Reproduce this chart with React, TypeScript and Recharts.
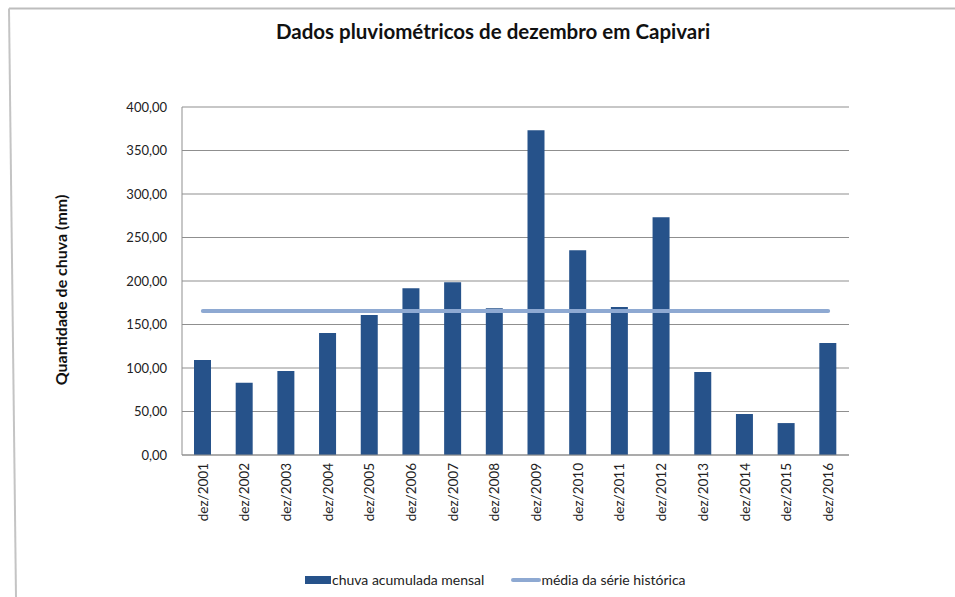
import { ComposedChart, Bar, Line, XAxis, YAxis, CartesianGrid } from 'recharts'

const categorias = [
  'dez/2001', 'dez/2002', 'dez/2003', 'dez/2004', 'dez/2005', 'dez/2006', 'dez/2007', 'dez/2008',
  'dez/2009', 'dez/2010', 'dez/2011', 'dez/2012', 'dez/2013', 'dez/2014', 'dez/2015', 'dez/2016',
]
const chuvaMensal = [109.1, 83.0, 96.5, 140.1, 160.8, 191.8, 198.7, 168.8, 373.2, 235.4, 170.0, 273.3, 95.3, 47.1, 36.7, 128.6]
const mediaSerie = [165.4, 165.4, 165.4, 165.4, 165.4, 165.4, 165.4, 165.4, 165.4, 165.4, 165.4, 165.4, 165.4, 165.4, 165.4, 165.4]
const yTicks = [0, 50, 100, 150, 200, 250, 300, 350, 400]

const data = categorias.map((c, i) => ({ mes: c, chuva: chuvaMensal[i], media: mediaSerie[i] }))

const BAR = '#26528A'
const LINE = '#8EA9D2'
const GRID = '#8f8f8f'
const FONT = 'Lato, "DejaVu Sans", sans-serif'

function XTick({ x, y, payload }: any) {
  return (
    <text x={x} y={y} transform={`rotate(-90, ${x}, ${y})`} textAnchor="end" dy="0.35em"
      fontSize={13.5} fill="#222" fontFamily={FONT}>
      {payload.value}
    </text>
  )
}

export default function App() {
  return (
    <div style={{ position: 'relative', width: 955, height: 597, background: '#fff', fontFamily: FONT }}>
      <style>{'body{margin:0}'}</style>

      {/* frame lines of the original chart area */}
      <svg width={955} height={597} style={{ position: 'absolute', left: 0, top: 0 }}>
        <line x1={9} y1={8.5} x2={955} y2={8.5} stroke="#bdbdbd" strokeWidth={2} />
        <line x1={9} y1={8.5} x2={16} y2={597} stroke="#c4c4c4" strokeWidth={2} />
      </svg>

      <div style={{ position: 'absolute', left: 0, width: 986, top: 19, textAlign: 'center', fontSize: 20.5, fontWeight: 700, color: '#111' }}>
        Dados pluviométricos de dezembro em Capivari
      </div>

      <div style={{
        position: 'absolute', left: 60, top: 290, transform: 'translate(-50%, -50%) rotate(-90deg)',
        whiteSpace: 'nowrap', fontSize: 16, fontWeight: 700, color: '#111',
      }}>
        Quantidade de chuva (mm)
      </div>

      <div style={{ position: 'absolute', left: 0, top: 0 }}>
        <ComposedChart width={955} height={597} data={data} margin={{ top: 107, right: 106, bottom: 72, left: 102 }}>
          <CartesianGrid vertical={false} stroke={GRID} strokeWidth={1} />
          <XAxis dataKey="mes" interval={0} tickLine={false} axisLine={{ stroke: GRID }} height={70}
            tick={<XTick />} tickMargin={0} tickSize={8} />
          <YAxis width={80} domain={[0, 400]} ticks={yTicks} tickLine={false} axisLine={{ stroke: GRID }}
            tickSize={0} tickMargin={15}
            tick={{ fontSize: 13, fill: '#222', fontFamily: FONT }}
            tickFormatter={(v: number) => v.toFixed(2).replace('.', ',')} />
          <Bar dataKey="chuva" fill={BAR} barSize={17} isAnimationActive={false} />
          <Line dataKey="media" type="linear" stroke={LINE} strokeWidth={4} strokeLinecap="round"
            dot={false} activeDot={false} isAnimationActive={false} />
        </ComposedChart>
      </div>

      <div style={{ position: 'absolute', left: 305, top: 571, display: 'flex', alignItems: 'center', fontSize: 14, color: '#222' }}>
        <span style={{ display: 'inline-block', width: 26, height: 8, background: BAR }} />
        <span style={{ marginLeft: 1 }}>chuva acumulada mensal</span>
        <span style={{ display: 'inline-block', width: 30, height: 4, background: LINE, marginLeft: 27, borderRadius: 2 }} />
        <span>média da série histórica</span>
      </div>
    </div>
  )
}
